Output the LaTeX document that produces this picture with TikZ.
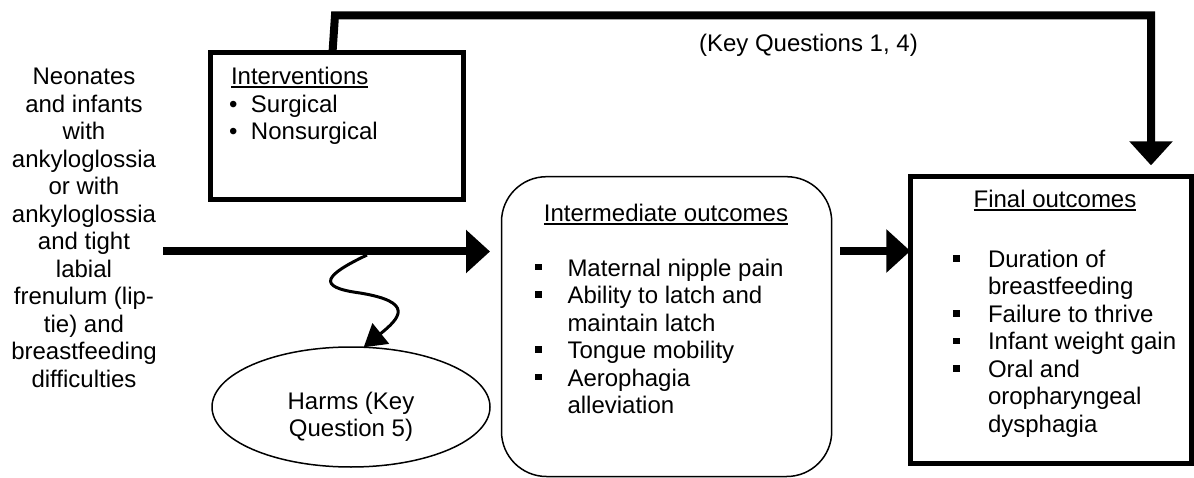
\documentclass[tikz,border=0pt]{standalone}
\usepackage{fontspec}
\setmainfont{Liberation Sans}
\usetikzlibrary{arrows.meta,shapes.geometric,calc}

% underlined heading with a rule of its own thickness
\newcommand\ulword[1]{\setbox0\hbox{#1}\rlap{\rule[-3pt]{\wd0}{1.6pt}}\box0}
% fixed height for the first line, so that node tops sit at a known distance above the first baseline
\newcommand\firstline{\rule{0pt}{20pt}}
% list markers
\newcommand\sqbullet[1]{\makebox[#1][l]{\rule[5.7pt]{6.5pt}{6.5pt}}}
\newcommand\rdbullet{\makebox[22pt][l]{•}}

\tikzset{
  txt/.style={font=\fontsize{24}{27.5}\selectfont, inner sep=0pt, outer sep=0pt},
  thickbox/.style={draw, line width=5pt, inner sep=0pt, outer sep=0pt},
  thinbox/.style={draw, line width=1.5pt, inner sep=0pt, outer sep=0pt},
  bigarrow/.style={line width=8pt, -{Triangle[length=24pt,width=42pt]}},
}

\begin{document}
\begin{tikzpicture}[x=1pt,y=-1pt]
\useasboundingbox (0,0) rectangle (1194,478);

% boxes
\node[thickbox, minimum width=252.7pt, minimum height=146.5pt] (interv) at (336.7,125.8) {};
\node[thinbox, rounded corners=45pt, minimum width=330.2pt, minimum height=299.8pt] (inter) at (666.6,326.6) {};
\node[thickbox, minimum width=280.7pt, minimum height=286.7pt] (final) at (1050.7,319.7) {};
\node[thinbox, ellipse, minimum width=278pt, minimum height=120pt, txt, align=center] (harms) at (351,407)
  {\rule{0pt}{37pt}Harms (Key\\Question 5)};

% population
\node[txt, align=center, anchor=north] (pop) at (84,64.5)
  {\firstline Neonates\\and infants\\with\\ankyloglossia\\or with\\ankyloglossia\\and tight\\labial\\frenulum (lip-\\tie) and\\breastfeeding\\difficulties};

% interventions
\node[txt, align=left, anchor=north west] (intervtext) at (229,65)
  {\firstline\hspace*{2pt}\ulword{Interventions}\\\rdbullet Surgical\\\rdbullet Nonsurgical};

% intermediate outcomes
\node[txt, anchor=base] (intertitle) at (666,222) {\ulword{Intermediate outcomes}};
\node[txt, align=left, anchor=north west] (interlist) at (535,256)
  {\firstline\sqbullet{32.5pt}Maternal nipple pain\\
   \sqbullet{32.5pt}Ability to latch and\\
   \hspace*{32.5pt}maintain latch\\
   \sqbullet{32.5pt}Tongue mobility\\
   \sqbullet{32.5pt}Aerophagia\\
   \hspace*{32.5pt}alleviation};

% final outcomes
\node[txt, anchor=base] (finaltitle) at (1055,208) {\ulword{Final outcomes}};
\node[txt, align=left, anchor=north west] (finallist) at (953.3,247.3)
  {\firstline\sqbullet{34.7pt}Duration of\\
   \hspace*{34.7pt}breastfeeding\\
   \sqbullet{34.7pt}Failure to thrive\\
   \sqbullet{34.7pt}Infant weight gain\\
   \sqbullet{34.7pt}Oral and\\
   \hspace*{34.7pt}oropharyngeal\\
   \hspace*{34.7pt}dysphagia};

% overarching link label
\node[txt, anchor=base west] (kq) at (699,52) {(Key Questions 1, 4)};

% connectors
\coordinate (popout) at (163,251.5);
\draw[bigarrow, shorten >=11.5pt] (popout) -- (popout -| inter.west);

\coordinate (midstart) at (840,251);
\draw[bigarrow] (midstart) -- (midstart -| final.west);

\coordinate (overleft) at (335,15.5);
\coordinate (overright) at (1151,15.5);
\draw[bigarrow, line join=miter, shorten >=11pt]
  (interv.north -| 332.5,0) -- (overleft) -- (overright) -- (final.north -| overright);

\coordinate (wavestart) at (367,255);
\draw[line width=3pt, -{Triangle[length=22pt,width=26pt]}]
  (wavestart) .. controls (325,275) and (315,287) .. (360,293)
  .. controls (415,302) and (400,318) .. (harms.78);
\end{tikzpicture}
\end{document}
